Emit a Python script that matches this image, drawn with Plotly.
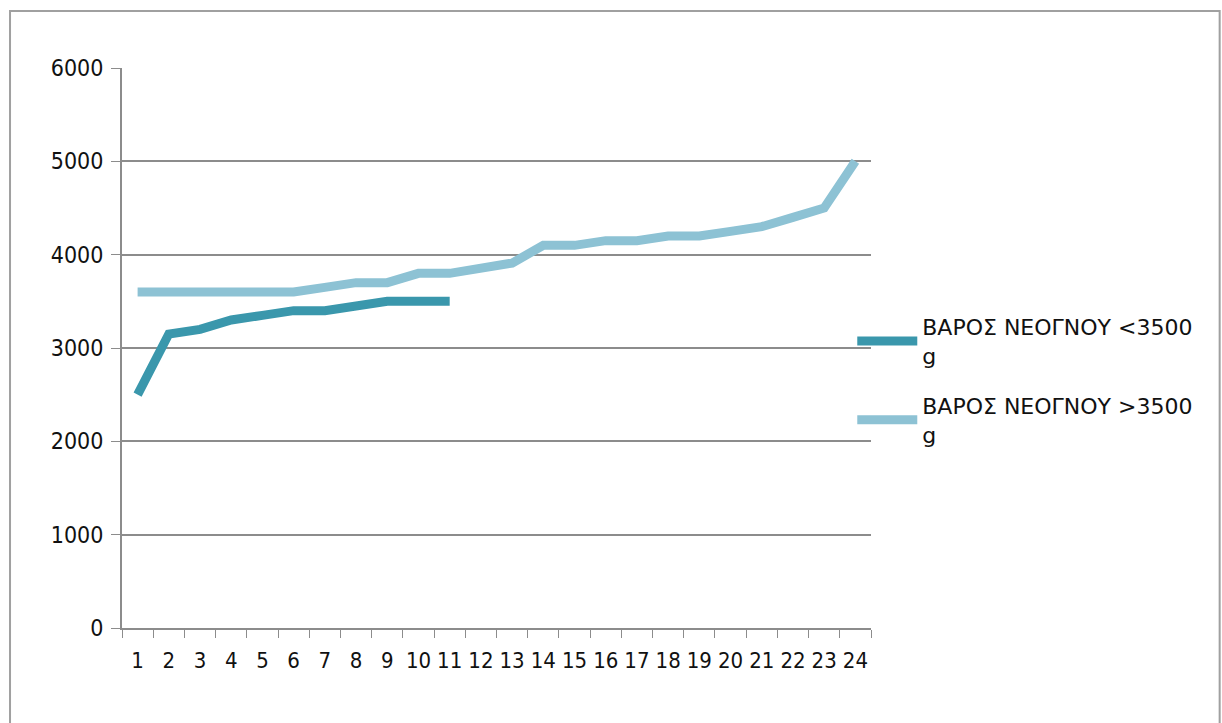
import plotly.graph_objects as go

categories = [str(i) for i in range(1, 25)]
series_low = [2500, 3150, 3200, 3300, 3350, 3400, 3400, 3450, 3500, 3500, 3500]
series_high = [3600, 3600, 3600, 3600, 3600, 3600, 3650, 3700, 3700, 3800, 3800, 3850,
               3910, 4100, 4100, 4150, 4150, 4200, 4200, 4250, 4300, 4400, 4500, 5000]
name_low = "ΒΑΡΟΣ ΝΕΟΓΝΟΥ &lt;3500<br>g"
name_high = "ΒΑΡΟΣ ΝΕΟΓΝΟΥ &gt;3500<br>g"
y_ticks = [0, 1000, 2000, 3000, 4000, 5000, 6000]

FONT = "DejaVu Sans"
COND = "DejaVu Sans Condensed, DejaVu Sans"
DARK = "#3A97AC"
LIGHT = "#8DC2D4"
GRID = "#8C8C8C"

fig = go.Figure()
fig.add_trace(go.Scatter(x=categories[:len(series_low)], y=series_low, mode="lines",
                         name=name_low, line=dict(color=DARK, width=9),
                         legend="legend"))
fig.add_trace(go.Scatter(x=categories, y=series_high, mode="lines",
                         name=name_high, line=dict(color=LIGHT, width=9),
                         legend="legend2"))

fig.update_layout(
    width=1222, height=723,
    margin=dict(l=122, r=351, t=68, b=95),
    paper_bgcolor="white", plot_bgcolor="white",
    font=dict(family=FONT, size=20, color="#111111"),
    showlegend=True,
    legend=dict(x=0.975, y=0.512, xanchor="left", yanchor="middle",
                font=dict(family=FONT, size=22, color="#111111"),
                bgcolor="rgba(0,0,0,0)", itemwidth=60, tracegroupgap=0),
    legend2=dict(x=0.975, y=0.371, xanchor="left", yanchor="middle",
                 font=dict(family=FONT, size=22, color="#111111"),
                 bgcolor="rgba(0,0,0,0)", itemwidth=60, tracegroupgap=0),
    xaxis=dict(type="category", categoryorder="array", categoryarray=categories,
               range=[-0.5, 23.5],
               tickson="boundaries", ticks="outside", ticklen=8, tickcolor=GRID,
               showline=True, linecolor=GRID, linewidth=2, showgrid=False,
               tickangle=0, ticklabelstandoff=12,
               tickfont=dict(family=COND, size=22, color="#111111"), zeroline=False),
    yaxis=dict(range=[0, 6000], tickvals=y_ticks, ticks="outside", ticklen=9,
               tickcolor=GRID, showline=True, linecolor=GRID, linewidth=2,
               showgrid=True, gridcolor=GRID, gridwidth=1.5, zeroline=False,
               ticklabelstandoff=3,
               tickfont=dict(family=COND, size=23, color="#111111")),
    shapes=[dict(type="rect", xref="paper", yref="paper",
                 x0=-0.1495, x1=1.4655, y0=-0.2, y1=1.1018,
                 line=dict(color="#A0A0A0", width=2), layer="below")],
)

fig.write_html("out.html")
